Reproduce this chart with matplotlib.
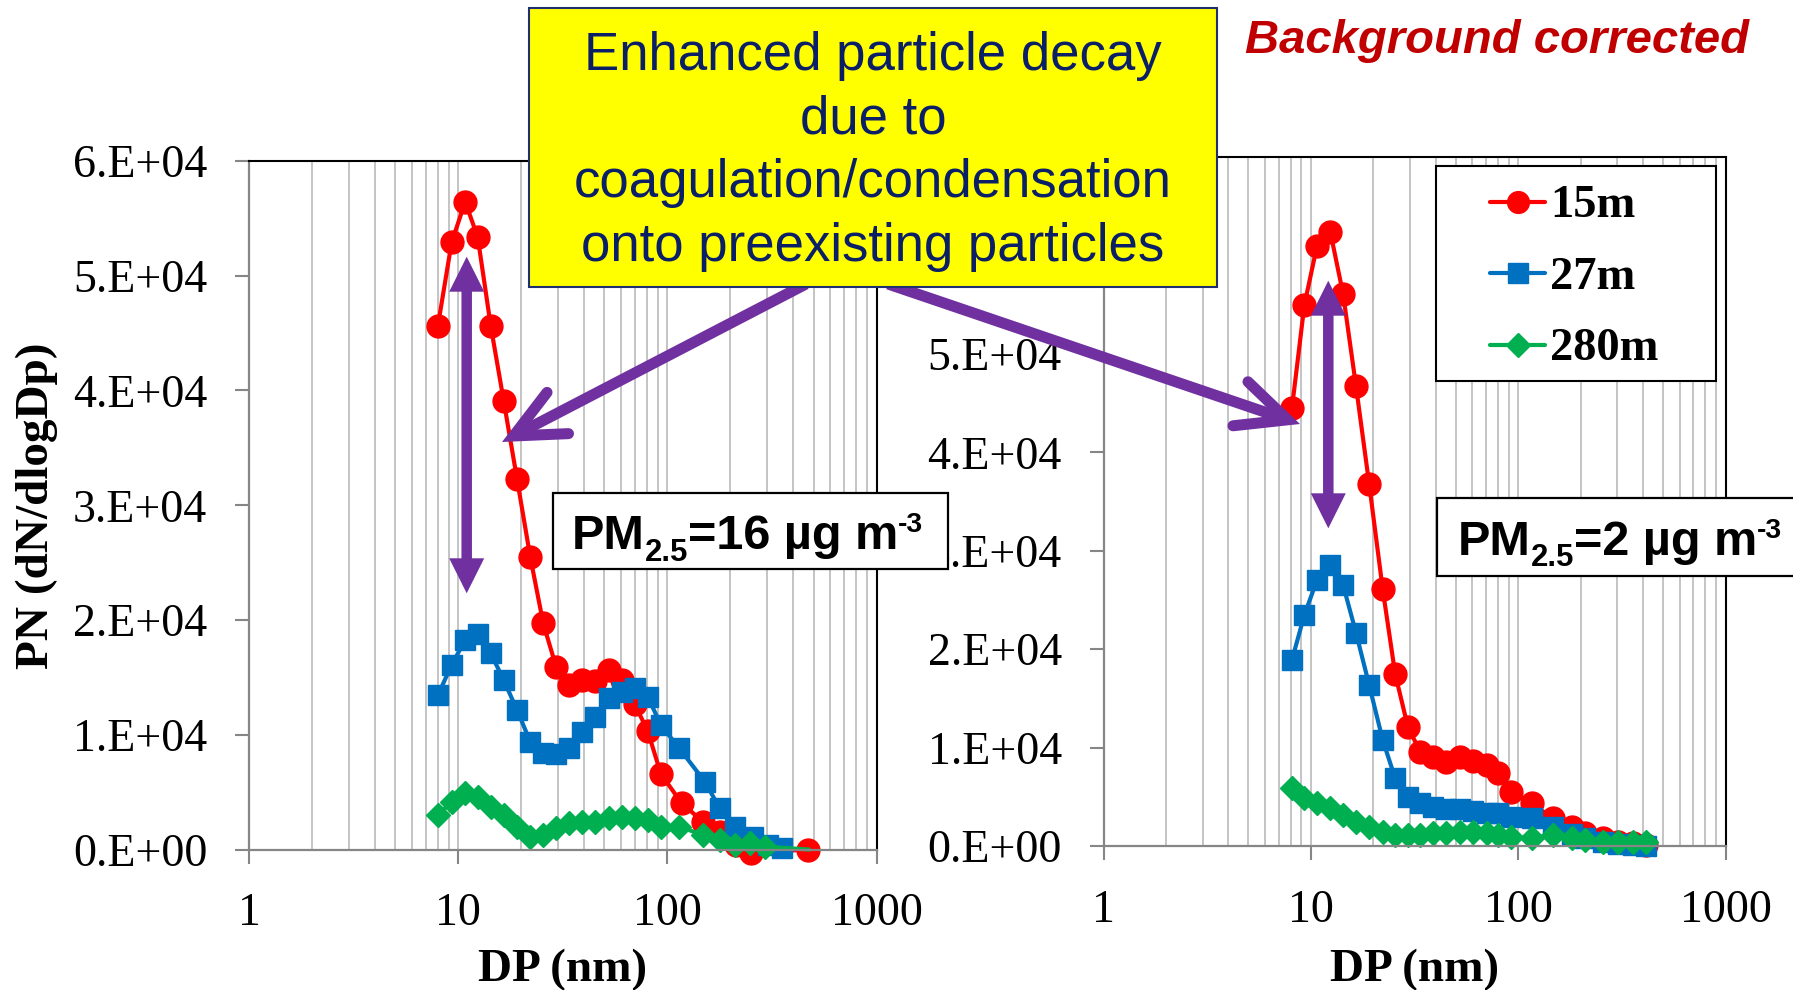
import numpy as np
import matplotlib
matplotlib.use("Agg")
import matplotlib.pyplot as plt
import matplotlib.transforms as mtransforms
from matplotlib.patches import Rectangle, Polygon
from matplotlib.lines import Line2D
from matplotlib.ticker import LogLocator, NullFormatter

# ---------------- data ----------------
series_names = ["15m", "27m", "280m"]
series_colors = ["#FF0000", "#0070C0", "#00B050"]
series_markers = ["o", "s", "D"]
series_msize = [16.5, 14.5, 12.5]

x_ticks = [1, 10, 100, 1000]
x_tick_labels = ["1", "10", "100", "1000"]
left_y_ticks = [0, 1e4, 2e4, 3e4, 4e4, 5e4, 6e4]
left_y_labels = ["0.E+00", "1.E+04", "2.E+04", "3.E+04", "4.E+04", "5.E+04", "6.E+04"]
right_y_ticks = [0, 1e4, 2e4, 3e4, 4e4, 5e4, 6e4, 7e4]
right_y_labels = ["0.E+00", "1.E+04", "2.E+04", "3.E+04", "4.E+04", "5.E+04", "6.E+04", "7.E+04"]

# Left panel (PM2.5 = 16 ug m-3)
left_15m_dp = [8.0, 9.3, 10.8, 12.4, 14.3, 16.5, 19.1, 22.1, 25.5, 29.4, 34.0, 39.2, 45.3, 52.3,
               60.4, 69.7, 80.6, 93.0, 117, 148, 178, 212, 250, 472]
left_15m_pn = [45650, 52900, 56450, 53350, 45650, 39100, 32300, 25500, 19700, 15900, 14300, 14800,
               14700, 15600, 14800, 12700, 10300, 6600, 4030, 2420, 1550, 400, -300, 0]
left_27m_dp = [8.0, 9.3, 10.8, 12.4, 14.3, 16.5, 19.1, 22.1, 25.5, 29.4, 34.0, 39.2, 45.3, 52.3,
               60.4, 69.7, 80.6, 93.0, 114, 151, 178, 211, 256, 304, 352]
left_27m_pn = [13460, 16080, 18260, 18780, 17100, 14770, 12160, 9400, 8380, 8320, 8820, 10270,
               11570, 13180, 13750, 14050, 13320, 10850, 8820, 5910, 3590, 1990, 1120, 400, 100]
left_280m_dp = [8.0, 9.3, 10.8, 12.4, 14.3, 16.5, 19.1, 22.1, 25.5, 29.4, 34.0, 39.2, 45.3, 52.3,
                60.4, 69.7, 80.6, 93.0, 114, 148, 178, 211, 248, 292, 472]
left_280m_pn = [3000, 4170, 4900, 4600, 3730, 3000, 1990, 1120, 1260, 1850, 2280, 2420, 2420,
                2720, 2860, 2720, 2570, 1990, 1990, 1260, 830, 390, 540, 250, 0]

# Right panel (PM2.5 = 2 ug m-3)
right_dp = [8.1, 9.3, 10.7, 12.4, 14.3, 16.5, 19.1, 22.2, 25.5, 29.4, 33.7, 39.0, 45.0, 52.3,
            60.6, 70.4, 80.0, 92.8, 116, 147, 181, 210, 257, 302, 358, 415]
right_15m_pn = [44470, 54960, 60960, 62410, 56080, 46730, 36780, 26100, 17470, 12060, 9580, 9070,
                8560, 9070, 8670, 8230, 7390, 5520, 4340, 2810, 1960, 1290, 780, 440, 270, 100]
right_27m_pn = [18900, 23470, 27020, 28550, 26520, 21670, 16360, 10770, 6880, 5010, 4340, 4000,
                3760, 3730, 3590, 3390, 3320, 2980, 2810, 1960, 1200, 800, 400, 200, 100, 0]
right_280m_pn = [5860, 4850, 4340, 3830, 3150, 2470, 1960, 1450, 1120, 1120, 1120, 1290, 1290,
                 1450, 1450, 1290, 1120, 950, 780, 1120, 780, 610, 440, 440, 440, 440]

# ---------------- style ----------------
plt.rcParams["font.family"] = ["Liberation Serif", "DejaVu Serif"]

W, H = 1793, 990
fig = plt.figure(figsize=(W / 100, H / 100), dpi=100)
fig.patch.set_facecolor("white")
# pixel coordinates, origin top-left
pix = mtransforms.Affine2D().scale(1.0 / W, -1.0 / H).translate(0, 1) + fig.transFigure


def make_axes(x0, x1, top, bottom):
    return fig.add_axes([x0 / W, 1 - bottom / H, (x1 - x0) / W, (bottom - top) / H])


ax_l = make_axes(249, 876.6, 161, 849.5)
ax_r = make_axes(1103.6, 1725.5, 157, 846)

TICK_FS = 33
for ax, yt, ytl, ymax in [(ax_l, left_y_ticks, left_y_labels, 6e4),
                          (ax_r, right_y_ticks, right_y_labels, 7e4)]:
    ax.set_xscale("log")
    ax.set_xticks(x_ticks, x_tick_labels)
    ax.set_yticks(yt, ytl)
    ax.set_xlim(1, 1000)
    ax.set_ylim(0, ymax)
    ax.xaxis.set_minor_locator(LogLocator(base=10, subs=np.arange(2, 10)))
    ax.xaxis.set_minor_formatter(NullFormatter())
    ax.grid(True, which="both", axis="x", color="#BFBFBF", lw=1.3)
    ax.set_axisbelow(True)
    ax.tick_params(which="minor", length=0)
    ax.tick_params(which="major", direction="out", length=10, width=1.5,
                   color="#868686", labelsize=TICK_FS)
    ax.tick_params(axis="x", pad=21)
    ax.tick_params(axis="y", pad=20)
    for s in ["left", "bottom"]:
        ax.spines[s].set_color("#868686")
        ax.spines[s].set_linewidth(1.6)
    for s in ["top", "right"]:
        ax.spines[s].set_color("black")
        ax.spines[s].set_linewidth(1.5)

left_data = [(left_15m_dp, left_15m_pn), (left_27m_dp, left_27m_pn), (left_280m_dp, left_280m_pn)]
right_data = [(right_dp, right_15m_pn), (right_dp, right_27m_pn), (right_dp, right_280m_pn)]

for ax, data in [(ax_l, left_data), (ax_r, right_data)]:
    for i, (dp, pn) in enumerate(data):
        mk_every = None
        if ax is ax_l and i == 2:
            mk_every = slice(0, len(dp) - 1)
        ax.plot(dp, pn, color=series_colors[i], lw=3, marker=series_markers[i],
                ms=series_msize[i], mfc=series_colors[i], mec=series_colors[i],
                clip_on=False, markevery=mk_every, label=series_names[i])

# ---------------- axis labels ----------------
fig.text(37, 506, "PN (dN/dlogDp)", transform=pix, rotation=90, ha="center", va="center",
         fontsize=34, fontweight="bold", family="Liberation Serif")
fig.text(563, 981, "DP (nm)", transform=pix, ha="center", va="baseline",
         fontsize=34, fontweight="bold", family="Liberation Serif")
fig.text(1414.5, 981, "DP (nm)", transform=pix, ha="center", va="baseline",
         fontsize=34, fontweight="bold", family="Liberation Serif")

# ---------------- legend (manual, in right panel) ----------------
fig.add_artist(Rectangle((1435.7, 165.7), 280, 215.3, transform=pix, facecolor="white",
                         edgecolor="black", lw=1.5, zorder=4))
for i, row_y in enumerate([201.7, 273.3, 345.0]):
    fig.add_artist(Line2D([1490, 1517.7, 1545], [row_y] * 3, transform=pix, color=series_colors[i],
                          lw=3, marker=series_markers[i], markevery=[1], ms=series_msize[i] * 0.95,
                          mfc=series_colors[i], mec=series_colors[i], zorder=5,
                          solid_capstyle="round"))
    fig.text(1550, row_y + 15.5, series_names[i], transform=pix, ha="left", va="baseline",
             fontsize=33.5, fontweight="bold", family="Liberation Serif", zorder=5)

# ---------------- PM2.5 boxes ----------------
renderer = fig.canvas.get_renderer()


def rich_text(xc, baseline, parts, fontsize, **kw):
    """parts: (string, size scale, vertical shift in px (down positive))"""
    items = []
    for s, scale, dy in parts:
        t = fig.text(0, 0, s, transform=pix, fontsize=fontsize * scale, ha="left",
                     va="baseline", **kw)
        w = t.get_window_extent(renderer).width
        items.append((t, dy, w))
    x = xc - sum(w for _, _, w in items) / 2
    for t, dy, w in items:
        t.set_position((x, baseline + dy))
        x += w


PM_FS = 35
fig.add_artist(Rectangle((552.7, 492.7), 395.6, 76.6, transform=pix, facecolor="white",
                         edgecolor="black", lw=1.6, zorder=4))
rich_text(747.5, 549.3, [("PM", 1, 0), ("2.5", 0.64, 11.5), ("=16 µg m", 1, 0), ("-3", 0.58, -17)],
          PM_FS, fontweight="bold", family="Liberation Sans", zorder=5)
fig.add_artist(Rectangle((1437.3, 498.3), 370, 77.7, transform=pix, facecolor="white",
                         edgecolor="black", lw=1.6, zorder=4))
rich_text(1620, 555, [("PM", 1, 0), ("2.5", 0.64, 11.5), ("=2 µg m", 1, 0), ("-3", 0.58, -17)],
          PM_FS, fontweight="bold", family="Liberation Sans", zorder=5)

# ---------------- purple arrows ----------------
PURPLE = "#7030A0"


def double_arrow(x, y_top, y_bot, shaft=10.5, head_w=35, head_l=35):
    hs, hw = shaft / 2, head_w / 2
    verts = [(x, y_top), (x + hw, y_top + head_l), (x + hs, y_top + head_l),
             (x + hs, y_bot - head_l), (x + hw, y_bot - head_l), (x, y_bot),
             (x - hw, y_bot - head_l), (x - hs, y_bot - head_l), (x - hs, y_top + head_l),
             (x - hw, y_top + head_l)]
    fig.add_artist(Polygon(verts, closed=True, transform=pix, facecolor=PURPLE,
                           edgecolor="none", zorder=6))


def open_arrow(start, tip, lw_px=11, barb_len=55, barb_ang=25):
    s = np.array(start, float)
    t = np.array(tip, float)
    u = (t - s) / np.linalg.norm(t - s)
    lw_pt = lw_px * 0.72
    vtx = t - u * (lw_px / 2) / np.sin(np.radians(barb_ang))
    b = -u
    pts = []
    for sgn in (1, -1):
        a = np.radians(sgn * barb_ang)
        r = np.array([b[0] * np.cos(a) - b[1] * np.sin(a), b[0] * np.sin(a) + b[1] * np.cos(a)])
        pts.append(vtx + r * barb_len)
    fig.add_artist(Line2D([s[0], vtx[0]], [s[1], vtx[1]], transform=pix, color=PURPLE,
                          lw=lw_pt, solid_capstyle="butt", zorder=6))
    fig.add_artist(Line2D([pts[0][0], vtx[0], pts[1][0]], [pts[0][1], vtx[1], pts[1][1]],
                          transform=pix, color=PURPLE, lw=lw_pt, solid_joinstyle="miter",
                          solid_capstyle="round", zorder=6))


double_arrow(466.7, 256.7, 593.3)
double_arrow(1328.3, 280.7, 528.3)
open_arrow((806, 284), (502, 442))
open_arrow((888, 284), (1300, 424))

# ---------------- yellow callout ----------------
fig.add_artist(Rectangle((529, 8.3), 688, 278.4, transform=pix, facecolor="#FFFF00",
                         edgecolor="#1F3070", lw=1.5, zorder=7))
NAVY = "#0B1F66"
for txt, yb in [("Enhanced particle decay", 70), ("due to", 133.3),
                ("coagulation/condensation", 196.7), ("onto preexisting particles", 260.5)]:
    fig.text(873, yb, txt, transform=pix, ha="center", va="baseline", fontsize=38,
             color=NAVY, family="Liberation Sans", zorder=8)

fig.text(1497, 52.7, "Background corrected", transform=pix, ha="center", va="baseline",
         fontsize=34, fontweight="bold", style="italic", color="#C00000",
         family="Liberation Sans", zorder=8)

fig.savefig("out.png", dpi=100, facecolor="white")
